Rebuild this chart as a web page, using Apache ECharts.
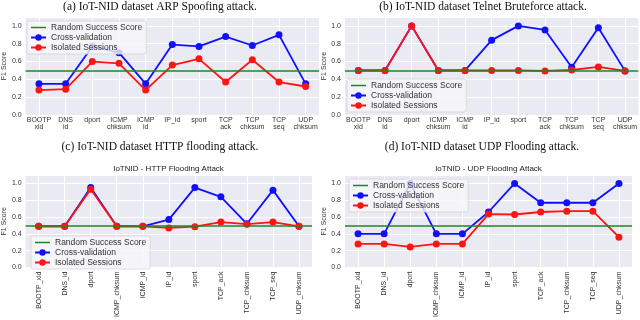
<!DOCTYPE html>
<html>
<head>
<meta charset="utf-8">
<script src="https://cdn.jsdelivr.net/npm/echarts@6/dist/echarts.min.js"></script>
<style>html,body{margin:0;padding:0;background:#fff;}#c{width:640px;height:320px;}</style>
</head>
<body>
<div id="c"></div>
<script>
// ---- data ----
const catsTop = ['BOOTP\nxid','DNS\nid','dport','ICMP\nchksum','ICMP\nid','IP_id','sport','TCP\nack','TCP\nchksum','TCP\nseq','UDP\nchksum'];
const catsBottom = ['BOOTP_xid','DNS_id','dport','ICMP_chksum','ICMP_id','IP_id','sport','TCP_ack','TCP_chksum','TCP_seq','UDP_chksum'];
const RANDOM_SCORE = 0.5;

const arpCV    = [0.35,0.35,0.77,0.70,0.35,0.79,0.77,0.88,0.78,0.90,0.35];
const arpIS    = [0.28,0.29,0.60,0.58,0.28,0.56,0.63,0.37,0.62,0.37,0.32];
const telnetCV = [0.50,0.50,1.00,0.50,0.50,0.84,1.00,0.955,0.535,0.98,0.495];
const telnetIS = [0.50,0.50,1.00,0.50,0.50,0.50,0.50,0.495,0.505,0.54,0.495];
const httpCV   = [0.49,0.49,0.95,0.49,0.49,0.57,0.95,0.84,0.52,0.92,0.49];
const httpIS   = [0.49,0.49,0.93,0.49,0.49,0.47,0.485,0.54,0.515,0.54,0.49];
const udpCV    = [0.40,0.40,1.00,0.40,0.40,0.66,1.00,0.77,0.77,0.77,1.00];
const udpIS    = [0.28,0.28,0.245,0.28,0.28,0.635,0.63,0.66,0.67,0.67,0.36];

const captions = ['(a) IoT-NID dataset ARP Spoofing attack.','(b) IoT-NID dataset Telnet Bruteforce attack.',
                  '(c) IoT-NID dataset HTTP flooding attack.','(d) IoT-NID dataset UDP Flooding attack.'];
const plotTitles = ['IoTNID - HTTP Flooding Attack','IoTNID - UDP Flooding Attack'];
const names = ['Random Success Score','Cross-validation','Isolated Sessions'];

// ---- layout ----
const panels = [
  {grid:{left:24, top:17, width:295, height:98}, cats:catsTop, cv:arpCV, is:arpIS, rot:0, nameGap:12, legend:{left:27, top:21}},
  {grid:{left:345, top:17, width:295, height:98}, cats:catsTop, cv:telnetCV, is:telnetIS, rot:0, nameGap:12, legend:{left:347, top:79}},
  {grid:{left:25, top:175, width:287, height:96}, cats:catsBottom, cv:httpCV, is:httpIS, rot:90, nameGap:15, legend:{left:31, top:236}},
  {grid:{left:345, top:175, width:287, height:96}, cats:catsBottom, cv:udpCV, is:udpIS, rot:90, nameGap:15, legend:{left:349, top:179}}
];

const GREEN = '#1a8a1a', BLUE = '#1010ff', RED = '#ff1414';
const sans = 'Liberation Sans, Arial, sans-serif';
const lineIcon = 'path://M0,0 L15,0 L15,0.01 Z M0,3.2 L15,3.2 L15,4.8 L0,4.8 Z M0,8 L15,8 L15,7.99 Z';

const option = {
  animation:false,
  grid:[], xAxis:[], yAxis:[], series:[], legend:[], graphic:[]
};

panels.forEach((p,i)=>{
  option.grid.push(Object.assign({show:true, backgroundColor:'#EAEAF2', borderWidth:0}, p.grid));
  option.xAxis.push({
    type:'category', gridIndex:i, data:p.cats, boundaryGap:true,
    axisLine:{show:false}, axisTick:{show:false},
    splitLine:{show:true, alignWithLabel:true, lineStyle:{color:'#ffffff', width:1}},
    axisLabel:{interval:0, rotate:p.rot, fontSize:7, lineHeight:6.5, color:'#333', fontFamily:sans, margin:p.rot?4:2}
  });
  option.yAxis.push({
    type:'value', gridIndex:i, min:0, max:1.1, interval:0.2,
    name:'F1 Score', nameLocation:'middle', nameGap:p.nameGap,
    nameTextStyle:{fontSize:7, color:'#333', fontFamily:sans},
    axisLine:{show:false}, axisTick:{show:false},
    axisLabel:{fontSize:7, color:'#333', fontFamily:sans, margin:4, showMaxLabel:false,
               formatter:v=>v.toFixed(1)},
    splitLine:{show:true, lineStyle:{color:'#ffffff', width:1}}
  });
  option.series.push({
    name:names[0], type:'line', xAxisIndex:i, yAxisIndex:i, data:[], symbol:'none',
    lineStyle:{color:GREEN, width:1.5}, itemStyle:{color:GREEN}, z:2,
    markLine:{silent:true, symbol:['none','none'], label:{show:false},
              lineStyle:{color:GREEN, width:1.5, type:'solid'}, data:[{yAxis:RANDOM_SCORE}]}
  });
  option.series.push({
    name:names[1], type:'line', xAxisIndex:i, yAxisIndex:i, data:p.cv,
    symbol:'circle', symbolSize:7, lineStyle:{color:BLUE, width:1.8}, itemStyle:{color:BLUE}, z:3
  });
  option.series.push({
    name:names[2], type:'line', xAxisIndex:i, yAxisIndex:i, data:p.is,
    symbol:'circle', symbolSize:7, lineStyle:{color:RED, width:1.8}, itemStyle:{color:RED}, z:4
  });
  option.legend.push({
    data:[{name:names[0], icon:lineIcon, itemStyle:{color:GREEN}}, {name:names[1]}, {name:names[2]}],
    orient:'vertical', left:p.legend.left, top:p.legend.top,
    itemWidth:15, itemHeight:8, itemGap:1, padding:[2,4,2,3],
    backgroundColor:'rgba(246,246,250,0.8)', borderColor:'#d4d4d4', borderWidth:0.8, borderRadius:2,
    textStyle:{fontSize:8.5, color:'#333', fontFamily:sans}, selectedMode:false, z:10
  });
});

const capPos = [[160,6.5],[483,6.5],[160,147],[482,147]];
captions.forEach((t,i)=>{
  option.graphic.push({type:'text', x:capPos[i][0], y:capPos[i][1],
    style:{text:t, textAlign:'center', textVerticalAlign:'middle', align:'center', verticalAlign:'middle',
           font:'11.5px "Liberation Serif", "Times New Roman", serif', fill:'#111'}});
});
const tPos = [[168.5,169],[488.5,169]];
plotTitles.forEach((t,i)=>{
  option.graphic.push({type:'text', x:tPos[i][0], y:tPos[i][1],
    style:{text:t, textAlign:'center', textVerticalAlign:'middle', align:'center', verticalAlign:'middle',
           font:'8px "Liberation Sans", Arial, sans-serif', fill:'#222'}});
});

const chart = echarts.init(document.getElementById('c'), null, {renderer:'canvas'});
chart.setOption(option);
</script>
</body>
</html>
